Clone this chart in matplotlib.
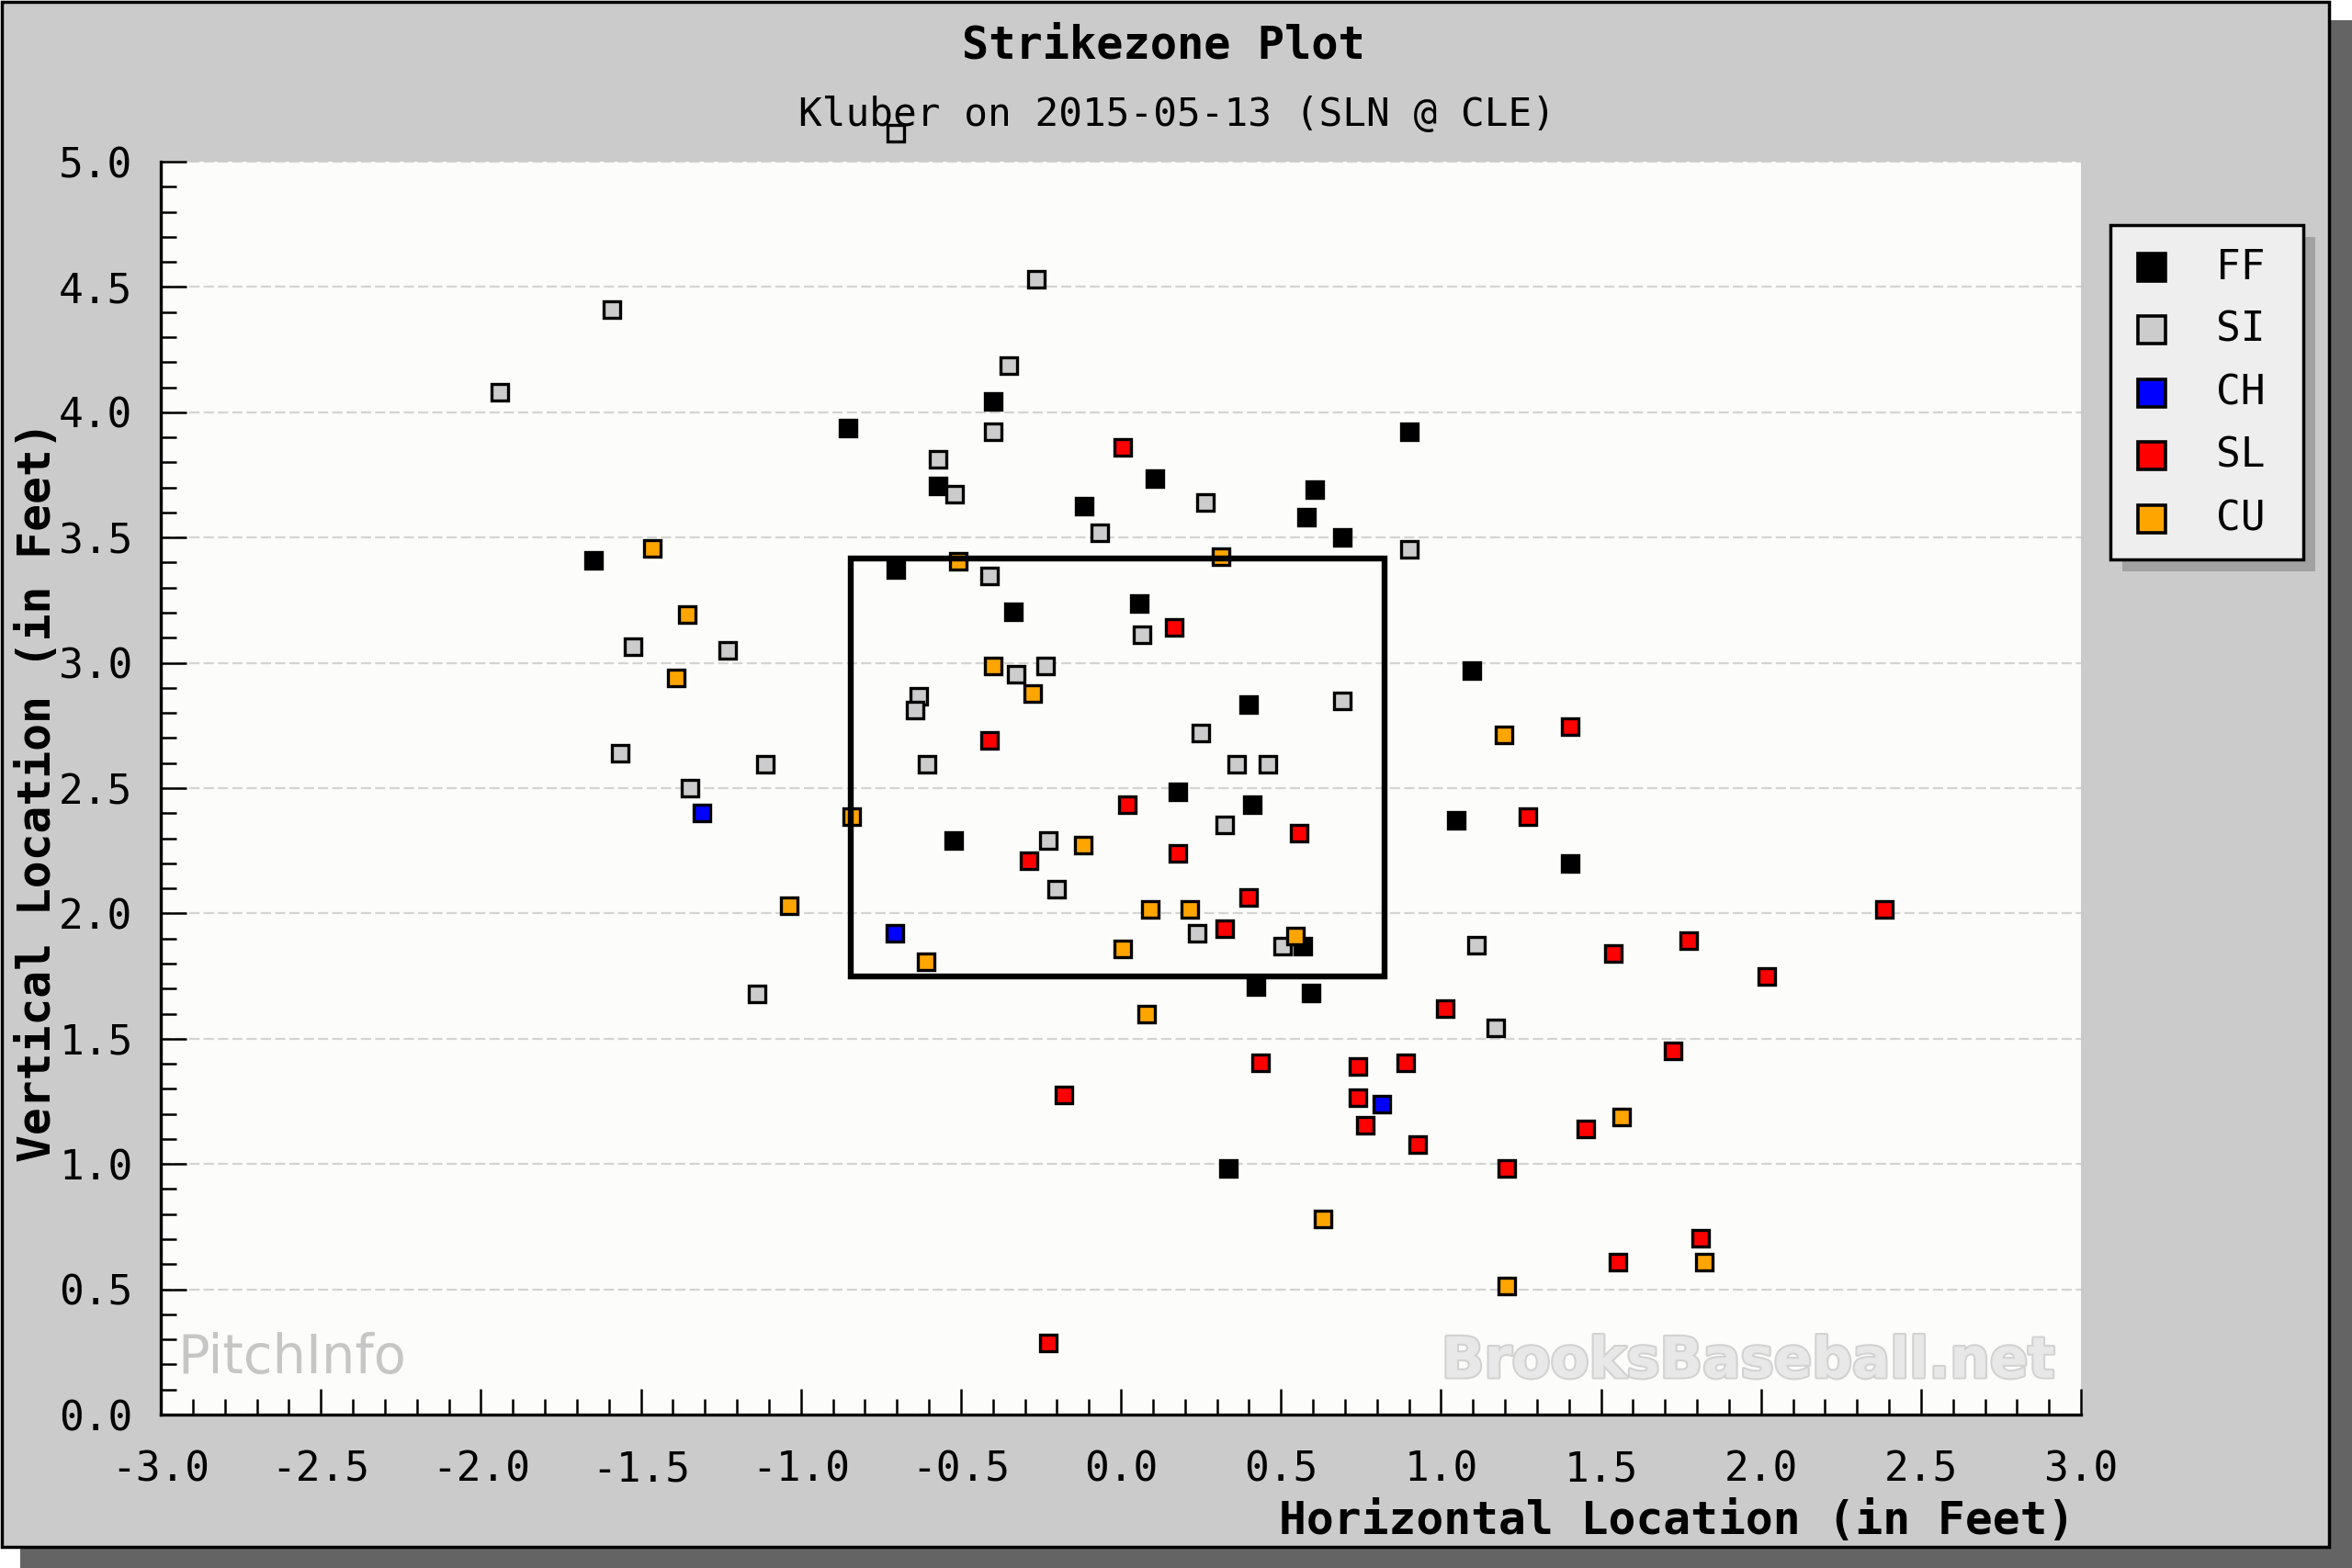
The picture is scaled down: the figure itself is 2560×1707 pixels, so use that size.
import matplotlib
matplotlib.use("Agg")
import matplotlib.pyplot as plt
from matplotlib.patches import Rectangle
from matplotlib.lines import Line2D
from matplotlib.ticker import MultipleLocator, FormatStrFormatter
import matplotlib.patheffects as pe

plt.rcParams['axes.unicode_minus'] = False

# ---------------- data (feet) ----------------
pitch_types = ["FF", "SI", "CH", "SL", "CU"]
pitch_colors = ["#000000", "#cccccc", "#0000ff", "#ff0000", "#ffa500"]

ff_x = [-1.647, -0.852, -0.704, -0.570, -0.398, -0.336, -0.522, -0.116, 0.105, 0.056,
        0.178, 0.400, 0.411, 0.606, 0.581, 0.692, 0.900, 1.098, 1.047, 1.405,
        0.569, 0.422, 0.593, 0.336]
ff_y = [3.410, 3.936, 3.372, 3.705, 4.045, 3.205, 2.290, 3.626, 3.735, 3.237,
        2.484, 2.832, 2.434, 3.690, 3.581, 3.500, 3.923, 2.969, 2.371, 2.199,
        1.871, 1.710, 1.684, 0.983]

si_x = [-1.941, -1.590, -1.524, -1.566, -1.346, -1.230, -1.112, -1.136, -0.570, -0.521,
        -0.398, -0.350, -0.264, -0.410, -0.631, -0.644, -0.607, -0.327, -0.236, -0.226,
        -0.202, -0.067, 0.067, 0.263, 0.250, 0.361, 0.460, 0.325, 0.239, 0.504,
        0.692, 0.900, 1.110, 1.171, -0.703]
si_y = [4.079, 4.410, 3.064, 2.641, 2.500, 3.051, 2.595, 1.679, 3.814, 3.673,
        3.923, 4.188, 4.532, 3.346, 2.865, 2.812, 2.594, 2.955, 2.987, 2.290,
        2.096, 3.518, 3.113, 3.641, 2.720, 2.594, 2.594, 2.352, 1.921, 1.871,
        2.848, 3.454, 1.874, 1.544, 5.115]

ch_x = [-1.308, -0.705, 0.815]
ch_y = [2.400, 1.919, 1.238]

sl_x = [0.006, 0.166, -0.410, 0.019, -0.288, 0.178, 0.558, 0.398, 0.325, 1.405,
        1.271, 2.387, 1.539, 1.773, 2.019, 1.012, 1.725, 0.436, 0.742, 0.889,
        0.742, 0.765, 0.927, -0.178, 1.207, 1.453, 1.811, 1.552, -0.227]
sl_y = [3.859, 3.141, 2.690, 2.434, 2.209, 2.240, 2.320, 2.065, 1.938, 2.745,
        2.386, 2.016, 1.842, 1.890, 1.749, 1.620, 1.451, 1.404, 1.390, 1.404,
        1.264, 1.156, 1.076, 1.276, 0.983, 1.140, 0.703, 0.607, 0.287]

cu_x = [-1.464, -1.355, -1.390, -1.037, -0.840, -0.608, -0.508, -0.399, -0.275, -0.117,
        0.312, 0.092, 0.215, 0.007, 0.545, 0.079, 1.196, 1.565, 0.633, 1.207, 1.822]
cu_y = [3.455, 3.192, 2.940, 2.031, 2.386, 1.808, 3.406, 2.987, 2.876, 2.274,
        3.423, 2.017, 2.017, 1.859, 1.909, 1.600, 2.714, 1.186, 0.782, 0.513, 0.607]

zone_left, zone_right = -0.845, 0.825
zone_bottom, zone_top = 1.75, 3.417

x_ticks = [-3.0, -2.5, -2.0, -1.5, -1.0, -0.5, 0.0, 0.5, 1.0, 1.5, 2.0, 2.5, 3.0]
y_ticks = [0.0, 0.5, 1.0, 1.5, 2.0, 2.5, 3.0, 3.5, 4.0, 4.5, 5.0]

title = "Strikezone Plot"
subtitle = "Kluber on 2015-05-13 (SLN @ CLE)"
xlabel = "Horizontal Location (in Feet)"
ylabel = "Vertical Location (in Feet)"

# ---------------- figure ----------------
W, H = 2560, 1707
fig = plt.figure(figsize=(W / 100, H / 100), dpi=100)
fig.patch.set_facecolor("white")

def fx(px):
    return px / W

def fy(py):
    return 1 - py / H

# drop shadow and panel
fig.add_artist(Rectangle((fx(22), 0), 1 - fx(22), fy(22), transform=fig.transFigure,
                         facecolor="#646464", edgecolor="none", zorder=-20))
fig.add_artist(Rectangle((fx(1.5), fy(1684)), fx(2535) - fx(1.5), fy(1.5) - fy(1684),
                         transform=fig.transFigure, facecolor="#cbcbcb",
                         edgecolor="black", linewidth=2.5, zorder=-19))

mono = "DejaVu Sans Mono"

ax = fig.add_axes([fx(175), fy(1540), fx(2265) - fx(175), fy(176) - fy(1540)])
ax.set_facecolor("#fcfcfa")
ax.set_xlim(-3, 3)
ax.set_ylim(0, 5)
ax.set_xticks(x_ticks)
ax.set_yticks(y_ticks)
ax.xaxis.set_minor_locator(MultipleLocator(0.1))
ax.yaxis.set_minor_locator(MultipleLocator(0.1))
ax.xaxis.set_major_formatter(FormatStrFormatter("%.1f"))
ax.yaxis.set_major_formatter(FormatStrFormatter("%.1f"))
for s in ["top", "right"]:
    ax.spines[s].set_visible(False)
for s in ["left", "bottom"]:
    ax.spines[s].set_linewidth(2.4)
    ax.spines[s].set_color("black")
ax.tick_params(which="major", direction="in", length=20, width=1.8, colors="black")
ax.tick_params(which="minor", direction="in", length=12, width=1.8, colors="black")
ax.tick_params(axis="x", which="major", pad=28, labelsize=32)
ax.tick_params(axis="y", which="major", pad=22, labelsize=32)
for lab in ax.get_xticklabels() + ax.get_yticklabels():
    lab.set_family(mono)

ax.set_axisbelow(True)
ax.yaxis.grid(True, which="major", color="#d4d4d4", linestyle=(0, (5, 2)), linewidth=1.6)
ax.xaxis.grid(False)

series = [(ff_x, ff_y), (si_x, si_y), (ch_x, ch_y), (sl_x, sl_y), (cu_x, cu_y)]
for (xs, ys), col in zip(series, pitch_colors):
    ax.plot(xs, ys, linestyle="none", marker="s", markersize=12.8,
            markerfacecolor=col, markeredgecolor="black", markeredgewidth=2.4,
            clip_on=False, zorder=3)

ax.add_patch(Rectangle((zone_left, zone_bottom), zone_right - zone_left, zone_top - zone_bottom,
                       fill=False, edgecolor="black", linewidth=4.6, joinstyle="miter", zorder=4))

# watermarks
ax.text(fx(193), fy(1478), "PitchInfo", transform=fig.transFigure, ha="left", va="center",
        fontsize=41.5, color="#c6c6c6", family="DejaVu Sans", zorder=1)
ax.text(fx(2236), fy(1483), "BrooksBaseball.net", transform=fig.transFigure, ha="right",
        va="center", fontsize=44, fontweight="bold", color="#e8e8e8", family="DejaVu Sans",
        zorder=1, path_effects=[pe.withStroke(linewidth=3, foreground="#d2d2d2")])

# titles and labels
fig.text(fx(1266), fy(49), title, ha="center", va="center", fontsize=35,
         fontweight="bold", family=mono)
fig.text(fx(1281), fy(125), subtitle, ha="center", va="center", fontsize=30.8, family=mono)
fig.text(fx(2258), fy(1656), xlabel, ha="right", va="center", fontsize=35.7,
         fontweight="bold", family=mono)
fig.text(fx(41), fy(862), ylabel, ha="center", va="center", rotation=90, fontsize=35.7,
         fontweight="bold", family=mono)

# legend (drawn as a framed box)
lx0, ly0, lx1, ly1 = 2297, 245, 2507, 609
fig.add_artist(Rectangle((fx(lx0 + 13), fy(ly1 + 13)), fx(lx1) - fx(lx0), fy(ly0) - fy(ly1),
                         transform=fig.transFigure, facecolor="#a2a2a2",
                         edgecolor="none", zorder=8))
fig.add_artist(Rectangle((fx(lx0), fy(ly1)), fx(lx1) - fx(lx0), fy(ly0) - fy(ly1),
                         transform=fig.transFigure, facecolor="#eeeeee",
                         edgecolor="black", linewidth=2.5, zorder=9))
row_y = [291, 359, 428, 496, 565]
for name, col, ry in zip(pitch_types, pitch_colors, row_y):
    fig.add_artist(Line2D([fx(2342)], [fy(ry)], transform=fig.transFigure, linestyle="none",
                          marker="s", markersize=21.5, markerfacecolor=col,
                          markeredgecolor="black", markeredgewidth=2.6, zorder=10))
    fig.text(fx(2412), fy(ry), name, ha="left", va="center", fontsize=32,
             family=mono, zorder=10)

fig.savefig("out.png", dpi=100, facecolor=fig.get_facecolor())
